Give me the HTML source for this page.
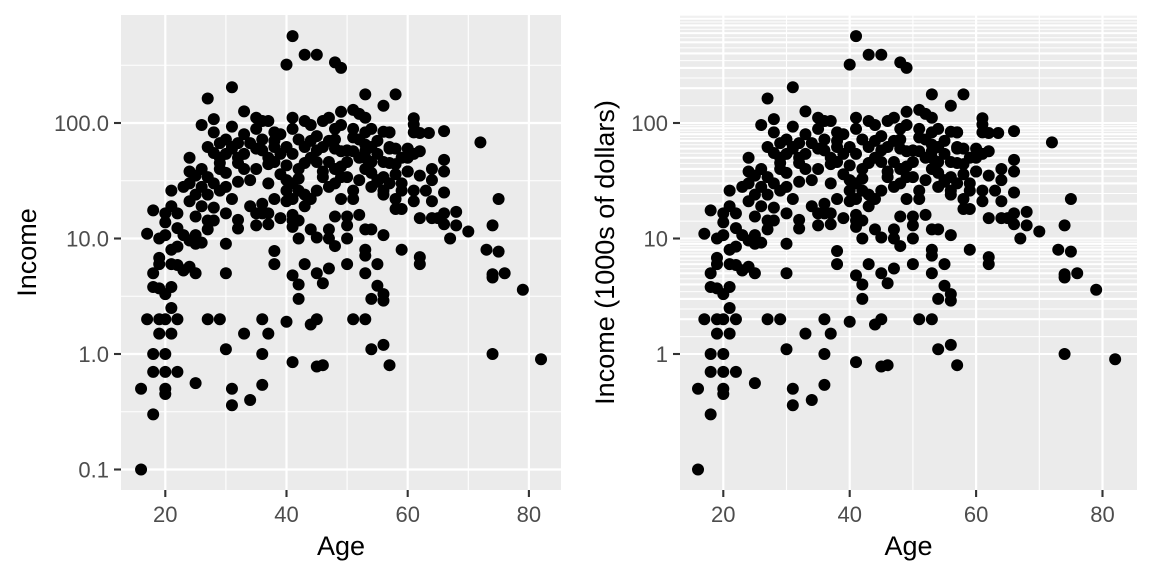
<!DOCTYPE html>
<html><head><meta charset="utf-8"><style>
html,body{margin:0;padding:0;background:#fff;}
svg{display:block;font-family:"Liberation Sans",sans-serif;}
</style></head><body>
<svg id="chart" width="1152" height="576"></svg>
<script>
const ages=[41,43,45,48,49,40,31,27,53,58,56,33,51,52,72,61,66,75,74,70,73,75,74,74,76,79,74,82,67,68,68,66,66,65,64,62,62,62,59,66,66,66,64,64,62,60,60,61,61,62,63.5,62,63,64,61,61,58,59,58,58,58,59,57,57,56,56,55,54,53,53,54,56,53,53,53,55,55,56,56,54,51,53,54,56,57,50,50,50,51,52,48,47,47,48,45,44,47,45,46,43,41,42,42,40,44,45,41,45,46,42,41,41,40,39,38,38,37,36,36,37,36,36,35,35,33,34,31,31,30,30,30,30,32,32,29,27,25,25,24,23,22,21,20,19,19,17,18,18,20,20,22,20,20,16,18,16,17,18,18,18,19,19,19,20,21,21,21,22,23,19,20,20,20,21,21,21,22,22,22,23,24,25,25,26,25,25,24,24,24,24,26,26,26,27,27,27,27,27,28,28,28,28,28,29,29,29,29,30,30,30,30,31,31,31,32,32,32,33,33,34,34,35,35,35,36,36,37,37,37,38,38,38,38,39,39,40,40,40,41,41,41,41,41,42,42,42,43,43,43,44,44,44,45,45,45,46,46,46,47,47,47,48,48,48,48,49,49,49,49,49,50,50,50,51,51,51,52,52,53,53,53,53,54,54,54,55,55,56,56,56,57,57,57,59,59,60,60,61,34,36,37,41,43,42,
  39,42,44,46,48,50,52,54,33,35,37,29,31,26,23,47,49,51,53,55,57,43,45,40,38,36,32,28,25,58];
const incomes=[565,390,390,335,300,320,204,163,177,177,141,126,130,120,68,110,85,22,13,11.5,8,7.7,4.9,4.6,5,3.6,1,0.9,10,17,13,16.5,13.3,15,15,15,6.9,6,8,48,38,25,40,32,35,38,60,83,97,82,82,57,26,21,26,21,18,18,22,44,36,30,60,83,84,26,31,37,50,12,12,10.7,8,7.1,5,6,3.9,3.3,2.9,3,2,2,1.1,1.2,0.8,6,10,13,22,16,15.5,12,10,8.6,10.2,12,5.5,5,4.1,6,4.8,4,3,1.9,1.8,2,0.85,0.78,0.8,10,12.6,16,21,15,7.8,6,13.3,20,2,1.5,1,0.54,16.5,13,1.5,0.4,0.5,0.36,1.1,5,9,16.5,14.5,12.2,2,2,0.56,5,5.7,5.3,2,1.5,2,2,1.5,2,1,0.7,1,0.7,0.7,0.5,0.45,0.5,0.3,0.1,11,17.5,5,3.8,6.8,6,3.7,3.3,3.8,2.5,6,5.9,5.3,10,10.7,13.8,16.5,26,19,8,8.5,16.5,12.3,10.7,9.6,10.7,9,9.2,15.5,24,21,30,38,50,19,28,96,14.3,12,24,34,62,108,83,14.3,18.5,30,26,40,50,67,28,37,72,54,93,62,22,67,50,31,54,40,67,32,111,89,40,104,72,104,50,30,83,62,46,22,80,54,62,43,32,111,89,54,30,22,72,40,26,104,62,19,96,50,22,77,46,26,104,62,34,111,46,28,89,72,40,30,125,96,57,34,22,46,34,15.5,89,57,26,72,32,111,83,57,40,89,62,46,54,32,46,34,24,83,62,30,50,26,50,38,54,19,16.5,16.5,14.3,24,14.3,
  36,33,70,38,60,58,50,28,80,60,44,45,60,40,28,70,42,75,65,70,45,45,58,26,70,58,45,55,35,60];
const xTicks=[20,40,60,80];
const xMinor=[30,50,70];
const leftYTicks=[0.1,1,10,100];
const leftYLabels=["0.1","1.0","10.0","100.0"];
const rightYTicks=[1,10,100];
const rightYLabels=["1","10","100"];

const NS="http://www.w3.org/2000/svg";
const svg=document.getElementById('chart');
function mk(tag,attrs,parent){const e=document.createElementNS(NS,tag);for(const k in attrs)e.setAttribute(k,attrs[k]);(parent||svg).appendChild(e);return e;}
const T=15,B=490;
function yS(v){return 354-115.5*Math.log10(v);}
function makeX(x20,k){return a=>x20+(a-20)*k;}

function panel(L,R,xS,name,yTicks,yLabels,dense,ytitle,ytitleX){
  const g=mk('g',{});
  
  
  const bg=mk('rect',{x:L,y:T,width:R-L,height:B-T,fill:'#ebebeb'},g);
  
  
  if(dense){
    for(let k=-1;k<=2;k++){for(let n=1;n<=9;n++){
      const v=n*Math.pow(10,k); if(v<1)continue; const y=yS(v); if(y<T)continue;
      const l=mk('line',{x1:L,x2:R,y1:y,y2:y,stroke:'#fff','stroke-width':2.1},g);
      
      const v2=Math.sqrt(v*(n+1)*Math.pow(10,k)); const y2=yS(v2); if(y2>=T){
      const m=mk('line',{x1:L,x2:R,y1:y2,y2:y2,stroke:'#fff','stroke-width':1},g);
      }
    }}
  } else {
    [0.1,1,10,100].forEach(v=>{const y=yS(v)-115.5/2;
      const m=mk('line',{x1:L,x2:R,y1:y,y2:y,stroke:'#fff','stroke-width':1.1},g);
      });
    leftYTicks.forEach(v=>{const y=yS(v);
      const l=mk('line',{x1:L,x2:R,y1:y,y2:y,stroke:'#fff','stroke-width':2.2},g);
      });
  }
  xMinor.forEach(a=>{const x=xS(a);
    const m=mk('line',{x1:x,x2:x,y1:T,y2:B,stroke:'#fff','stroke-width':1.1},g);
    });
  xTicks.forEach(a=>{const x=xS(a);
    const l=mk('line',{x1:x,x2:x,y1:T,y2:B,stroke:'#fff','stroke-width':2.2},g);
    
    const t=mk('line',{x1:x,x2:x,y1:B,y2:B+7,stroke:'#333','stroke-width':2.1},g);
    
    const tx=mk('text',{x:x,y:522,'text-anchor':'middle','font-size':22,fill:'#4d4d4d'},g);
    tx.textContent=a;
    });
  yTicks.forEach((v,i)=>{const y=yS(v);
    const t=mk('line',{x1:L-7,x2:L,y1:y,y2:y,stroke:'#333','stroke-width':2.1},g);
    
    const tx=mk('text',{x:L-12,y:y+8,'text-anchor':'end','font-size':22,fill:'#4d4d4d'},g);
    tx.textContent=yLabels[i];
    });
  ages.forEach((a,i)=>{
    const c=mk('circle',{cx:xS(a),cy:yS(incomes[i]),r:6,fill:'#000'},g);
    
    });
  const xt=mk('text',{x:(L+R)/2,y:555,'text-anchor':'middle','font-size':27,fill:'#000'},g);
  xt.textContent='Age';
  
  const yt=mk('text',{x:0,y:0,'text-anchor':'middle','font-size':27,fill:'#000',transform:`translate(${ytitleX},${(T+B)/2}) rotate(-90)`},g);
  yt.textContent=ytitle;
  
}
panel(121,561,makeX(165.3,6.06),'left-panel',leftYTicks,leftYLabels,false,'Income',36);
panel(680,1137,makeX(723.3,6.32),'right-panel',rightYTicks,rightYLabels,true,'Income (1000s of dollars)',614);
</script>
</body></html>
